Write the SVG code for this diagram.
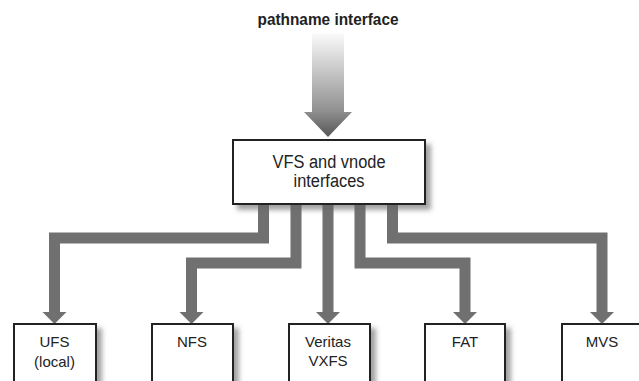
<svg xmlns="http://www.w3.org/2000/svg" width="639" height="381" viewBox="0 0 639 381">
  <style>
    .box { fill: #ffffff; stroke: #222222; stroke-width: 2; filter: url(#shadow); }
    .lbl { font-family: "Liberation Sans", Arial, sans-serif; font-size: 15px; fill: #222222; text-anchor: middle; }
    .conn { fill: none; stroke: #707070; stroke-width: 11; stroke-linejoin: miter; }
    .head { fill: #707070; }
  </style>
  <defs>
    <filter id="shadow" x="-20%" y="-20%" width="150%" height="160%">
      <feDropShadow dx="5" dy="5" stdDeviation="2.5" flood-color="#666666" flood-opacity="0.6"/>
    </filter>
    <linearGradient id="bigArrow" x1="0" y1="33" x2="0" y2="137" gradientUnits="userSpaceOnUse">
      <stop offset="0" stop-color="#fbfbfb"/>
      <stop offset="0.75" stop-color="#909090"/>
      <stop offset="1" stop-color="#555555"/>
    </linearGradient>
  </defs>
  <rect width="639" height="381" fill="#ffffff"/>

  <g id="pathname">
    <text x="328" y="25" font-family="'Liberation Sans', Arial, sans-serif" font-weight="bold" font-size="17" fill="#222222" text-anchor="middle" textLength="141" lengthAdjust="spacingAndGlyphs">pathname interface</text>
    <polygon points="312,33 344,33 344,112 352,112 328,137 304,112 312,112" fill="url(#bigArrow)"/>
  </g>

  <g id="connectors">
    <path class="conn" d="M263.5,205 V238 H54.5 V313"/>
    <path class="conn" d="M296,205 V263 H191.5 V313"/>
    <path class="conn" d="M328,205 V313"/>
    <path class="conn" d="M360,205 V263 H465 V313"/>
    <path class="conn" d="M392.5,205 V238 H602 V313"/>
    <polygon class="head" points="42.5,312 66.5,312 54.5,324"/>
    <polygon class="head" points="179.5,312 203.5,312 191.5,324"/>
    <polygon class="head" points="316,312 340,312 328,324"/>
    <polygon class="head" points="453,312 477,312 465,324"/>
    <polygon class="head" points="590,312 614,312 602,324"/>
  </g>

  <g id="vfs">
    <rect class="box" x="233" y="140" width="192" height="64"/>
    <text x="329" y="168" font-family="'Liberation Sans', Arial, sans-serif" font-size="18" fill="#222222" text-anchor="middle" textLength="113" lengthAdjust="spacingAndGlyphs">VFS and vnode</text>
    <text x="329" y="187" font-family="'Liberation Sans', Arial, sans-serif" font-size="18" fill="#222222" text-anchor="middle" textLength="71" lengthAdjust="spacingAndGlyphs">interfaces</text>
  </g>

  <g id="ufs">
    <rect class="box" x="14" y="324" width="82" height="70"/>
    <text class="lbl" x="54.5" y="347">UFS</text>
    <text class="lbl" x="54.5" y="367">(local)</text>
  </g>
  <g id="nfs">
    <rect class="box" x="152" y="324" width="81" height="70"/>
    <text class="lbl" x="192" y="347">NFS</text>
  </g>
  <g id="veritas">
    <rect class="box" x="289" y="324" width="81" height="70"/>
    <text class="lbl" x="328" y="347">Veritas</text>
    <text class="lbl" x="328" y="366">VXFS</text>
  </g>
  <g id="fat">
    <rect class="box" x="425" y="324" width="80" height="70"/>
    <text class="lbl" x="465" y="347">FAT</text>
  </g>
  <g id="mvs">
    <rect class="box" x="562" y="324" width="82" height="70"/>
    <text class="lbl" x="602" y="347">MVS</text>
  </g>
</svg>
